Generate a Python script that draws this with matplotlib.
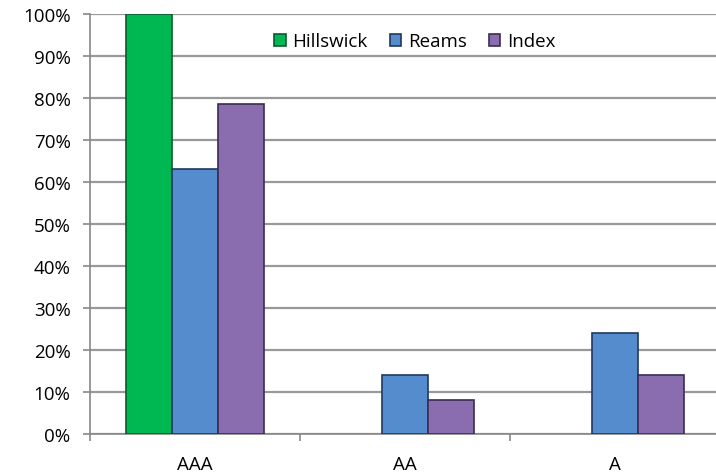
import matplotlib
matplotlib.use("Agg")
import matplotlib.pyplot as plt
import numpy as np
from matplotlib.ticker import FuncFormatter, FixedLocator

categories = ["AAA", "AA", "A"]
series_names = ["Hillswick", "Reams", "Index"]
hillswick = [100, 0, 0]
reams = [63, 14, 24]
index_vals = [78.5, 8, 14]
y_ticks = [0, 10, 20, 30, 40, 50, 60, 70, 80, 90, 100]

colors = ["#00B852", "#558CCD", "#8A6DAF"]
edges = ["#0A5A2E", "#1F3A5E", "#3A2D52"]

plt.rcParams['font.family'] = ['Open Sans', 'DejaVu Sans']
FS = 13.5

fig = plt.figure(figsize=(7.16, 4.77), dpi=100)
ax = fig.add_axes([90/716, 1-435/477, 630/716, 420/477])

x = np.arange(len(categories))
w = 0.22
data = [hillswick, reams, index_vals]
for i, (name, vals) in enumerate(zip(series_names, data)):
    v = np.array(vals, dtype=float)
    v[v == 0] = np.nan
    ax.bar(x + (i - 1) * w, v, width=w, color=colors[i], edgecolor=edges[i],
           linewidth=1.2, label=name, zorder=3)

ax.set_xlim(-0.5, 2.5)
ax.set_ylim(0, 100)
ax.yaxis.set_major_locator(FixedLocator(y_ticks))
ax.yaxis.set_major_formatter(FuncFormatter(lambda v, p: f"{int(v)}%"))
ax.grid(axis='y', color='#999999', linewidth=1.6, zorder=0)
ax.set_axisbelow(True)

ax.set_xticks(x)
ax.set_xticklabels(categories)
ax.set_xticks([-0.5, 0.5, 1.5, 2.5], minor=True)
ax.tick_params(axis='x', which='major', length=0, pad=15, labelsize=FS)
ax.tick_params(axis='x', which='minor', length=5, color='#888888', width=1.2)
ax.tick_params(axis='y', length=5, color='#888888', width=1.2, labelsize=FS, pad=9)

for s in ['top', 'right']:
    ax.spines[s].set_visible(False)
for s in ['left', 'bottom']:
    ax.spines[s].set_color('#888888')
    ax.spines[s].set_linewidth(1.2)

ax.legend(loc='upper center', bbox_to_anchor=(415/716, 1-24/477), bbox_transform=fig.transFigure,
          ncol=3, frameon=False, fontsize=FS, handlelength=0.6, handleheight=0.6,
          handletextpad=0.35, columnspacing=1.2, borderpad=0)

fig.savefig("out.png", dpi=100)
